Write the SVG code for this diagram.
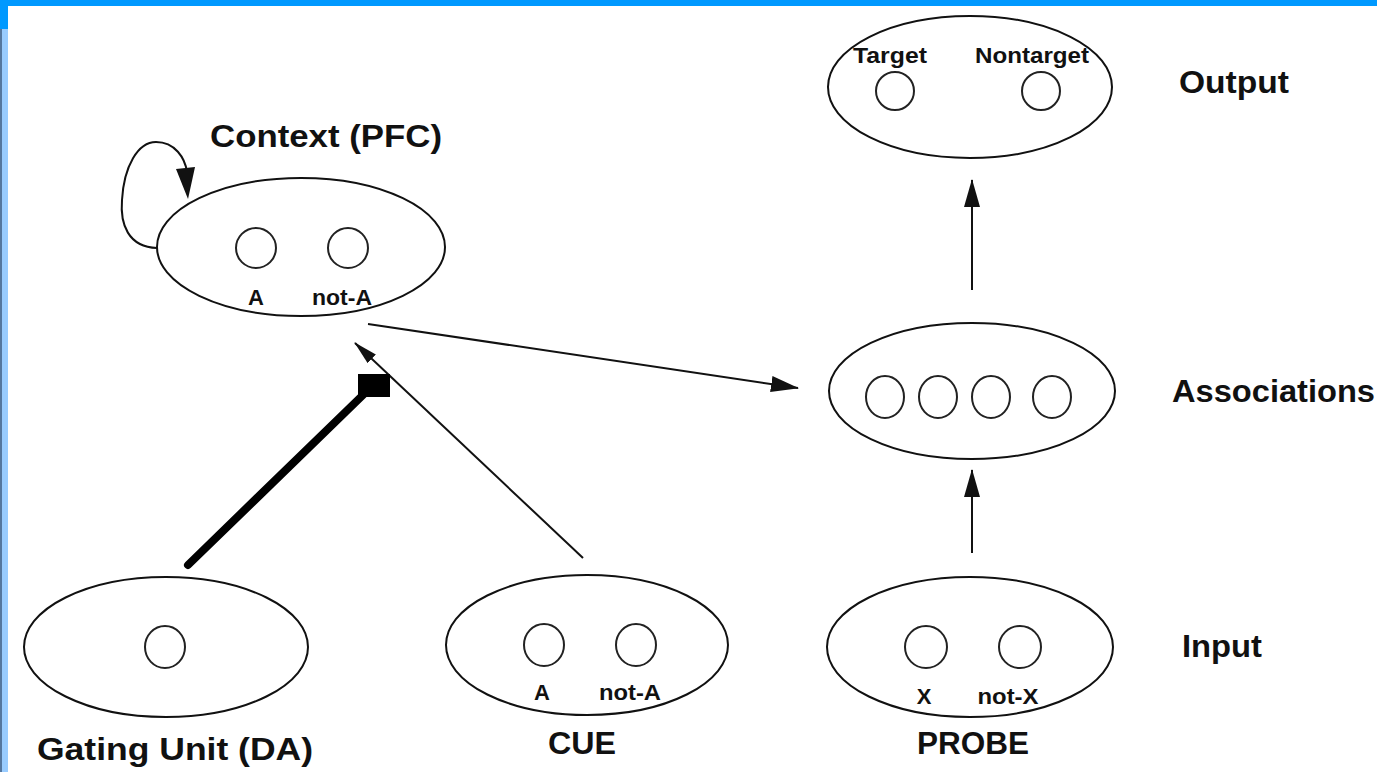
<svg xmlns="http://www.w3.org/2000/svg" width="1377" height="772" viewBox="0 0 1377 772">
<style>
.el{fill:none;stroke:#111;stroke-width:2}
.u{fill:none;stroke:#222;stroke-width:2}
.ln{fill:none;stroke:#111;stroke-width:2}
.big{font-family:"Liberation Sans",Arial,sans-serif;font-weight:bold;font-size:32px;fill:#111}
.sm{font-family:"Liberation Sans",Arial,sans-serif;font-weight:bold;font-size:22px;fill:#111}
</style>
<defs>
<marker id="ah" viewBox="0 0 28 16" markerWidth="28" markerHeight="16" refX="27" refY="8" orient="auto" markerUnits="userSpaceOnUse"><path d="M0,0 L28,8 L0,16 z" fill="#111"/></marker>
<marker id="ahs" viewBox="0 0 24 12" markerWidth="24" markerHeight="12" refX="23" refY="6" orient="auto" markerUnits="userSpaceOnUse"><path d="M0,0 L24,6 L0,12 z" fill="#111"/></marker>
</defs>
<rect x="0" y="0" width="1377" height="772" fill="#fff"/>
<rect x="0" y="0" width="1377" height="6" fill="#0099ff"/>
<rect x="0" y="0" width="8" height="29" fill="#0099ff"/>
<rect x="0" y="29" width="2" height="743" fill="#55779f"/>
<rect x="2" y="29" width="6" height="743" fill="#99ccff"/>

<g id="connectors">
<path class="ln" d="M157,248 C128,247 120,224 122,200 C124,166 138,142 156,142 C175,142 185,158 187,172"/>
<path d="M176,169 L195,167 L188,199 z" fill="#111"/>
<line class="ln" x1="368" y1="324" x2="798" y2="388" marker-end="url(#ah)"/>
<line class="ln" x1="583" y1="558" x2="355" y2="343" marker-end="url(#ahs)"/>
<line x1="188" y1="565" x2="364" y2="394" stroke="#000" stroke-width="8" stroke-linecap="round"/>
<rect x="358" y="374" width="32" height="23" fill="#000"/>
<line class="ln" x1="972" y1="290" x2="972" y2="180" marker-end="url(#ah)"/>
<line class="ln" x1="972" y1="553" x2="972" y2="470" marker-end="url(#ah)"/>
</g>

<g id="context">
<ellipse class="el" cx="301" cy="247" rx="144" ry="69"/>
<circle class="u" cx="256" cy="248" r="20"/>
<circle class="u" cx="348" cy="248" r="20"/>
<text class="sm" x="256" y="305" text-anchor="middle">A</text>
<text class="sm" x="342" y="305" text-anchor="middle" textLength="60" lengthAdjust="spacingAndGlyphs">not-A</text>
<text class="big" x="210" y="147" font-size="33" textLength="232" lengthAdjust="spacingAndGlyphs">Context (PFC)</text>
</g>

<g id="output">
<ellipse class="el" cx="970" cy="87" rx="142" ry="71"/>
<circle class="u" cx="895" cy="91" r="19"/>
<circle class="u" cx="1041" cy="91" r="19"/>
<text class="sm" x="890" y="63" text-anchor="middle" textLength="74" lengthAdjust="spacingAndGlyphs">Target</text>
<text class="sm" x="1032" y="63" text-anchor="middle" textLength="114" lengthAdjust="spacingAndGlyphs">Nontarget</text>
<text class="big" x="1179" y="93" textLength="110" lengthAdjust="spacingAndGlyphs">Output</text>
</g>

<g id="associations">
<ellipse class="el" cx="972" cy="391" rx="143" ry="68"/>
<ellipse class="u" cx="885" cy="397" rx="19" ry="21"/>
<ellipse class="u" cx="938" cy="397" rx="19" ry="21"/>
<ellipse class="u" cx="991" cy="397" rx="19" ry="21"/>
<ellipse class="u" cx="1052" cy="397" rx="19" ry="21"/>
<text class="big" x="1172" y="402" textLength="203" lengthAdjust="spacingAndGlyphs">Associations</text>
</g>

<g id="gating">
<ellipse class="el" cx="166" cy="647" rx="142" ry="70"/>
<ellipse class="u" cx="165" cy="647" rx="20" ry="21"/>
<text class="big" x="175" y="760" font-size="33" text-anchor="middle" textLength="276" lengthAdjust="spacingAndGlyphs">Gating Unit (DA)</text>
</g>

<g id="cue">
<ellipse class="el" cx="587" cy="645" rx="141" ry="70"/>
<ellipse class="u" cx="544" cy="645" rx="20" ry="21"/>
<ellipse class="u" cx="636" cy="645" rx="20" ry="21"/>
<text class="sm" x="542" y="700" text-anchor="middle">A</text>
<text class="sm" x="630" y="700" text-anchor="middle" textLength="62" lengthAdjust="spacingAndGlyphs">not-A</text>
<text class="big" x="582" y="754" text-anchor="middle" textLength="68" lengthAdjust="spacingAndGlyphs">CUE</text>
</g>

<g id="probe">
<ellipse class="el" cx="970" cy="647" rx="143" ry="70"/>
<ellipse class="u" cx="926" cy="647" rx="21" ry="21"/>
<ellipse class="u" cx="1020" cy="647" rx="21" ry="21"/>
<text class="sm" x="924" y="704" text-anchor="middle">X</text>
<text class="sm" x="1008" y="704" text-anchor="middle" textLength="61" lengthAdjust="spacingAndGlyphs">not-X</text>
<text class="big" x="973" y="754" text-anchor="middle" textLength="112" lengthAdjust="spacingAndGlyphs">PROBE</text>
<text class="big" x="1182" y="657" textLength="80" lengthAdjust="spacingAndGlyphs">Input</text>
</g>
</svg>
